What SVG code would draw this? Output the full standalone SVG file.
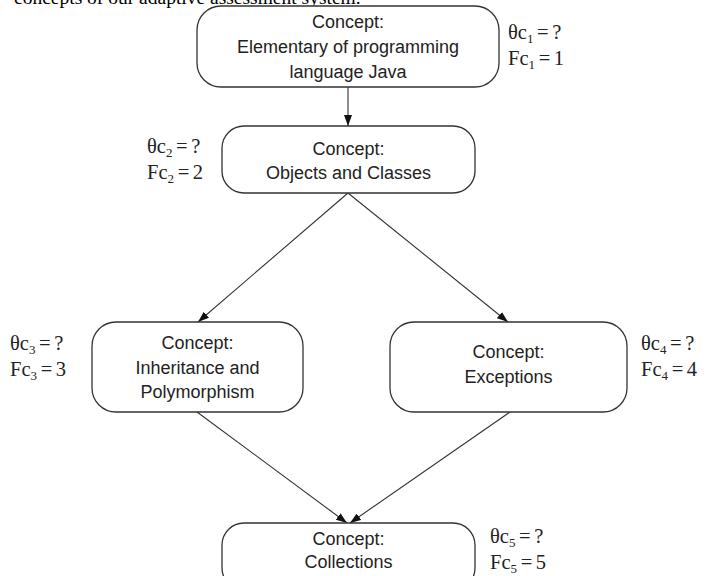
<svg xmlns="http://www.w3.org/2000/svg" width="714" height="576" viewBox="0 0 714 576">
<defs>
<marker id="arr" viewBox="0 0 11 8" refX="11" refY="4" markerWidth="11" markerHeight="8" markerUnits="userSpaceOnUse" orient="auto">
<path d="M0,0 L11,4 L0,8 z" fill="#111"/>
</marker>
<style>
.box{fill:#fff;stroke:#333;stroke-width:1.3}
.t{font-family:"Liberation Sans",Arial,sans-serif;font-size:18px;fill:#222;text-anchor:middle}
.m{font-family:"Liberation Serif","Times New Roman",serif;font-size:20.5px;fill:#222;word-spacing:-1.5px}
.s{font-size:13px}
.cap{font-family:"Liberation Serif","Times New Roman",serif;font-size:19.5px;fill:#000}
.c{stroke:#333;stroke-width:1.1;fill:none;marker-end:url(#arr)}
</style>
</defs>
<rect width="714" height="576" fill="#fff"/>
<text class="cap" x="14" y="4">concepts of our adaptive assessment system.</text>
<g id="connectors">
<line class="c" x1="348" y1="87" x2="348" y2="126"/>
<line class="c" x1="348" y1="193" x2="198" y2="322"/>
<line class="c" x1="348" y1="193" x2="508" y2="322"/>
<line class="c" x1="197" y1="412" x2="347" y2="523"/>
<line class="c" x1="510" y1="412" x2="350" y2="523"/>
</g>
<g id="c1">
<rect class="box" x="197" y="6" width="302" height="81" rx="24"/>
<text class="t" x="348" y="28">Concept:</text>
<text class="t" x="348" y="53">Elementary of programming</text>
<text class="t" x="348" y="78">language Java</text>
<text class="m" x="508" y="39">θc<tspan class="s" dy="4">1</tspan><tspan dy="-4"> = ?</tspan></text>
<text class="m" x="508" y="65">Fc<tspan class="s" dy="4">1</tspan><tspan dy="-4"> = 1</tspan></text>
</g>
<g id="c2">
<rect class="box" x="222" y="126" width="253" height="67" rx="22"/>
<text class="t" x="348.5" y="155">Concept:</text>
<text class="t" x="348.5" y="179">Objects and Classes</text>
<text class="m" x="147" y="153">θc<tspan class="s" dy="4">2</tspan><tspan dy="-4"> = ?</tspan></text>
<text class="m" x="147" y="179">Fc<tspan class="s" dy="4">2</tspan><tspan dy="-4"> = 2</tspan></text>
</g>
<g id="c3">
<rect class="box" x="92" y="322" width="211" height="90" rx="24"/>
<text class="t" x="197.5" y="349">Concept:</text>
<text class="t" x="197.5" y="373.5">Inheritance and</text>
<text class="t" x="197.5" y="398">Polymorphism</text>
<text class="m" x="10" y="350">θc<tspan class="s" dy="4">3</tspan><tspan dy="-4"> = ?</tspan></text>
<text class="m" x="10" y="376">Fc<tspan class="s" dy="4">3</tspan><tspan dy="-4"> = 3</tspan></text>
</g>
<g id="c4">
<rect class="box" x="390" y="322" width="237" height="90" rx="24"/>
<text class="t" x="508.5" y="358">Concept:</text>
<text class="t" x="508.5" y="383">Exceptions</text>
<text class="m" x="641" y="350">θc<tspan class="s" dy="4">4</tspan><tspan dy="-4"> = ?</tspan></text>
<text class="m" x="641" y="376">Fc<tspan class="s" dy="4">4</tspan><tspan dy="-4"> = 4</tspan></text>
</g>
<g id="c5">
<rect class="box" x="222" y="523" width="253" height="67" rx="22"/>
<text class="t" x="348.5" y="545">Concept:</text>
<text class="t" x="348.5" y="568">Collections</text>
<text class="m" x="490" y="543">θc<tspan class="s" dy="4">5</tspan><tspan dy="-4"> = ?</tspan></text>
<text class="m" x="490" y="569">Fc<tspan class="s" dy="4">5</tspan><tspan dy="-4"> = 5</tspan></text>
</g>
</svg>
